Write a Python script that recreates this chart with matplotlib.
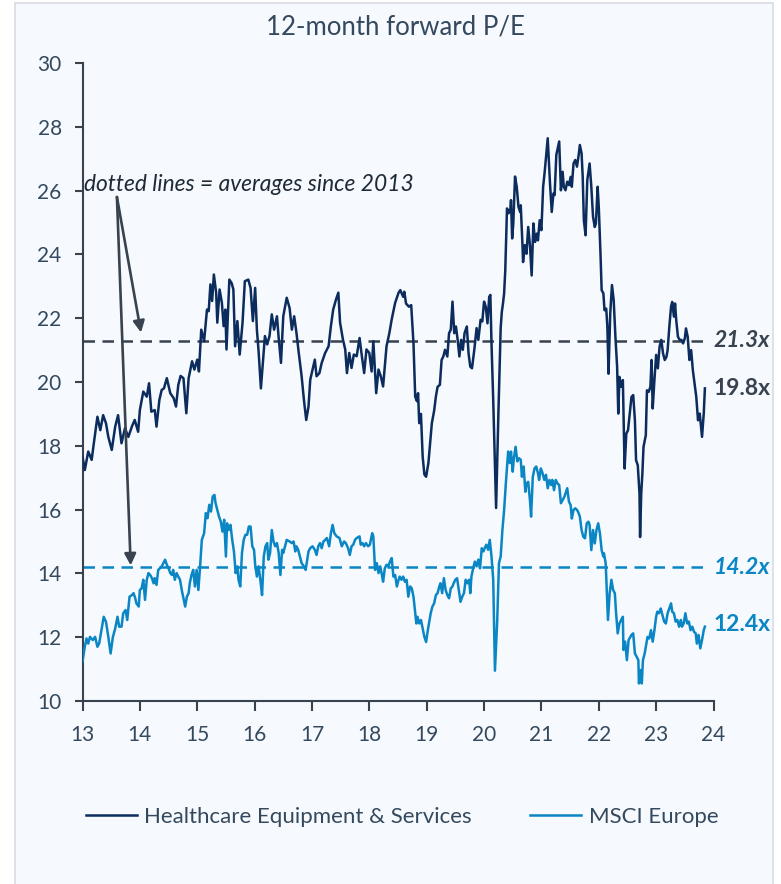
import matplotlib.pyplot as plt
from matplotlib.patches import Rectangle

plt.rcParams['font.family'] = ['Lato', 'DejaVu Sans']

# Healthcare Equipment & Services, 12m fwd P/E (x = year, 13 = 2013)
hc_years = [13.00, 13.04, 13.10, 13.16, 13.19, 13.26, 13.31, 13.36, 13.41, 13.45, 13.51, 13.57, 13.62, 13.68,
            13.74, 13.80, 13.86, 13.91, 13.97, 14.00, 14.06, 14.12, 14.16, 14.20, 14.26, 14.29, 14.34, 14.38,
            14.42, 14.47, 14.53, 14.59, 14.63, 14.67, 14.71, 14.76, 14.81, 14.85, 14.91, 14.95, 15.00, 15.03,
            15.07, 15.12, 15.17, 15.20, 15.23, 15.26, 15.29, 15.33, 15.35, 15.39, 15.43, 15.46, 15.49, 15.51,
            15.56, 15.60, 15.63, 15.66, 15.70, 15.74, 15.79, 15.83, 15.89, 15.93, 15.97, 16.01, 16.04, 16.07,
            16.11, 16.15, 16.18, 16.22, 16.26, 16.30, 16.34, 16.39, 16.42, 16.46, 16.50, 16.56, 16.61, 16.65,
            16.69, 16.73, 16.77, 16.82, 16.86, 16.90, 16.94, 16.97, 17.01, 17.05, 17.08, 17.13, 17.17, 17.23,
            17.29, 17.33, 17.37, 17.42, 17.46, 17.49, 17.54, 17.58, 17.61, 17.65, 17.69, 17.73, 17.78, 17.83,
            17.87, 17.91, 17.95, 18.00, 18.04, 18.07, 18.12, 18.16, 18.20, 18.24, 18.30, 18.35, 18.39, 18.45,
            18.51, 18.54, 18.59, 18.61, 18.64, 18.69, 18.73, 18.77, 18.80, 18.83, 18.85, 18.87, 18.90, 18.93,
            18.96, 18.99, 19.03, 19.09, 19.13, 19.16, 19.19, 19.23, 19.26, 19.29, 19.32, 19.36, 19.39, 19.42,
            19.45, 19.48, 19.51, 19.54, 19.57, 19.60, 19.63, 19.66, 19.70, 19.73, 19.76, 19.79, 19.83, 19.87,
            19.90, 19.94, 19.97, 20.00, 20.03, 20.06, 20.09, 20.11, 20.13, 20.16, 20.21, 20.25, 20.29, 20.31,
            20.33, 20.35, 20.37, 20.40, 20.43, 20.46, 20.47, 20.49, 20.51, 20.54, 20.57, 20.60, 20.63, 20.64,
            20.67, 20.68, 20.71, 20.74, 20.77, 20.80, 20.83, 20.86, 20.89, 20.92, 20.94, 20.97, 21.00, 21.03,
            21.06, 21.09, 21.11, 21.15, 21.18, 21.21, 21.23, 21.26, 21.29, 21.31, 21.34, 21.37, 21.39, 21.42,
            21.45, 21.48, 21.51, 21.53, 21.56, 21.59, 21.62, 21.65, 21.67, 21.70, 21.72, 21.74, 21.77, 21.80,
            21.84, 21.87, 21.90, 21.93, 21.95, 21.98, 22.00, 22.03, 22.05, 22.08, 22.10, 22.13, 22.15, 22.17,
            22.20, 22.23, 22.26, 22.29, 22.32, 22.34, 22.36, 22.39, 22.42, 22.45, 22.48, 22.51, 22.54, 22.57,
            22.60, 22.63, 22.65, 22.68, 22.71, 22.72, 22.74, 22.76, 22.78, 22.82, 22.84, 22.87, 22.90, 22.92,
            22.94, 22.97, 23.00, 23.03, 23.06, 23.09, 23.12, 23.15, 23.18, 23.20, 23.23, 23.26, 23.28, 23.31,
            23.33, 23.35, 23.38, 23.41, 23.44, 23.47, 23.50, 23.52, 23.55, 23.58, 23.61, 23.64, 23.67, 23.70,
            23.73, 23.76, 23.80, 23.83, 23.85]
hc_pe = [17.66, 17.24, 17.82, 17.56, 17.98, 18.91, 18.49, 18.96, 18.70, 18.28, 17.87, 18.60, 18.96, 18.08,
         18.55, 18.28, 18.60, 18.81, 18.44, 19.12, 19.70, 19.54, 19.96, 19.07, 19.12, 18.60, 19.44, 19.75,
         19.80, 20.12, 19.65, 19.49, 19.23, 19.91, 20.19, 20.12, 19.02, 20.12, 20.65, 20.39, 20.70, 20.33,
         21.64, 21.28, 22.27, 22.22, 23.06, 22.54, 23.37, 22.80, 21.86, 22.90, 22.48, 21.75, 22.27, 21.02,
         23.21, 23.10, 22.90, 21.12, 21.91, 20.86, 21.86, 23.16, 23.21, 22.95, 21.91, 22.95, 21.64, 20.96,
         19.80, 20.75, 21.44, 21.18, 21.44, 22.12, 21.64, 22.06, 21.38, 20.60, 22.06, 22.64, 22.32, 21.64,
         22.06, 21.54, 20.91, 20.18, 19.44, 18.81, 19.23, 20.07, 20.39, 20.70, 20.18, 20.28, 20.60, 20.91,
         21.12, 21.75, 22.27, 22.59, 22.80, 21.86, 21.33, 21.02, 20.28, 20.91, 20.44, 20.86, 20.81, 21.38,
         20.81, 20.28, 21.02, 20.91, 20.33, 21.28, 19.65, 20.39, 20.18, 19.86, 21.12, 21.54, 21.96, 22.48,
         22.80, 22.88, 22.67, 22.83, 22.46, 22.36, 22.41, 21.21, 19.54, 19.40, 19.65, 18.71, 19.00, 17.66,
         17.10, 17.03, 17.46, 18.71, 19.10, 19.54, 19.85, 19.91, 20.69, 20.80, 21.01, 20.80, 21.53, 21.64,
         22.52, 21.53, 21.74, 21.32, 20.80, 21.32, 21.01, 21.53, 21.74, 20.90, 20.48, 20.43, 21.01, 21.69,
         21.32, 21.95, 21.90, 22.52, 22.36, 21.84, 22.67, 22.73, 21.21, 19.43, 16.05, 19.00, 21.70, 22.20,
         22.46, 22.78, 23.50, 25.44, 25.29, 25.44, 25.70, 24.50, 24.97, 26.44, 26.12, 25.49, 25.33, 25.54,
         24.29, 23.76, 24.29, 24.02, 24.86, 24.29, 23.34, 24.97, 24.39, 24.65, 24.44, 25.07, 24.76, 26.12,
         26.64, 27.22, 27.64, 26.22, 25.33, 25.91, 25.86, 27.12, 27.38, 27.54, 26.01, 26.59, 26.12, 26.01,
         26.28, 26.17, 26.43, 26.12, 26.85, 26.96, 26.75, 27.12, 27.43, 27.17, 26.43, 25.07, 24.60, 26.33,
         26.85, 26.12, 25.18, 24.86, 24.97, 26.12, 25.49, 24.02, 22.88, 22.78, 22.25, 22.30, 21.73, 20.26,
         22.15, 23.04, 22.57, 21.42, 20.47, 19.01, 20.16, 19.85, 20.06, 17.29, 18.38, 18.49, 19.01, 19.53,
         19.59, 18.80, 17.55, 17.39, 16.50, 15.14, 16.50, 17.13, 17.97, 18.33, 19.74, 19.69, 19.85, 20.69,
         19.17, 20.06, 20.85, 20.43, 21.11, 21.32, 20.90, 20.69, 20.79, 21.00, 21.73, 22.36, 22.51, 22.05,
         22.46, 21.94, 21.42, 21.32, 21.32, 21.21, 21.37, 21.68, 21.42, 20.69, 21.00, 20.37, 19.95, 19.53,
         18.80, 19.01, 18.28, 19.01, 19.80]

# MSCI Europe, 12m fwd P/E
eu_years = [13.00, 13.04, 13.07, 13.10, 13.13, 13.18, 13.22, 13.26, 13.29, 13.33, 13.37, 13.41, 13.45, 13.49,
            13.53, 13.57, 13.61, 13.64, 13.68, 13.71, 13.75, 13.78, 13.82, 13.86, 13.89, 13.92, 13.94, 13.98,
            14.00, 14.03, 14.06, 14.09, 14.12, 14.15, 14.18, 14.21, 14.24, 14.26, 14.29, 14.32, 14.35, 14.38,
            14.41, 14.44, 14.47, 14.50, 14.53, 14.56, 14.58, 14.61, 14.64, 14.67, 14.70, 14.73, 14.76, 14.79,
            14.82, 14.85, 14.87, 14.90, 14.93, 14.96, 14.99, 15.02, 15.05, 15.08, 15.12, 15.15, 15.18, 15.21,
            15.24, 15.27, 15.30, 15.32, 15.35, 15.38, 15.41, 15.44, 15.47, 15.50, 15.52, 15.55, 15.58, 15.61,
            15.64, 15.67, 15.70, 15.72, 15.75, 15.78, 15.81, 15.84, 15.87, 15.90, 15.93, 15.96, 15.99, 16.01,
            16.04, 16.07, 16.10, 16.13, 16.16, 16.19, 16.22, 16.24, 16.27, 16.30, 16.33, 16.36, 16.39, 16.42,
            16.45, 16.48, 16.50, 16.53, 16.56, 16.61, 16.65, 16.68, 16.71, 16.73, 16.76, 16.79, 16.82, 16.86,
            16.89, 16.94, 16.97, 17.01, 17.05, 17.08, 17.11, 17.14, 17.17, 17.20, 17.23, 17.26, 17.30, 17.33,
            17.36, 17.39, 17.43, 17.48, 17.52, 17.56, 17.59, 17.63, 17.66, 17.69, 17.72, 17.75, 17.78, 17.83,
            17.85, 17.88, 17.91, 17.94, 17.98, 18.01, 18.05, 18.07, 18.10, 18.13, 18.16, 18.19, 18.22, 18.24,
            18.27, 18.30, 18.33, 18.36, 18.39, 18.42, 18.45, 18.48, 18.51, 18.53, 18.56, 18.59, 18.62, 18.65,
            18.68, 18.71, 18.74, 18.77, 18.80, 18.82, 18.84, 18.87, 18.90, 18.93, 18.96, 18.99, 19.02, 19.05,
            19.07, 19.10, 19.13, 19.16, 19.19, 19.22, 19.24, 19.27, 19.30, 19.33, 19.36, 19.39, 19.42, 19.45,
            19.47, 19.50, 19.53, 19.56, 19.59, 19.62, 19.65, 19.68, 19.71, 19.74, 19.76, 19.78, 19.81, 19.84,
            19.87, 19.90, 19.93, 19.96, 19.99, 20.01, 20.04, 20.07, 20.10, 20.13, 20.16, 20.19, 20.23, 20.26,
            20.29, 20.32, 20.35, 20.38, 20.42, 20.45, 20.47, 20.50, 20.52, 20.55, 20.58, 20.61, 20.64, 20.66,
            20.69, 20.72, 20.74, 20.77, 20.80, 20.82, 20.85, 20.88, 20.91, 20.94, 20.96, 20.99, 21.02, 21.05,
            21.08, 21.11, 21.14, 21.17, 21.19, 21.22, 21.25, 21.28, 21.31, 21.34, 21.37, 21.40, 21.43, 21.45,
            21.48, 21.51, 21.53, 21.56, 21.59, 21.62, 21.64, 21.67, 21.70, 21.73, 21.76, 21.79, 21.82, 21.84,
            21.87, 21.90, 21.93, 21.96, 21.99, 22.02, 22.05, 22.08, 22.09, 22.12, 22.13, 22.16, 22.19, 22.22,
            22.25, 22.28, 22.30, 22.33, 22.36, 22.39, 22.42, 22.43, 22.46, 22.49, 22.52, 22.55, 22.57, 22.60,
            22.63, 22.66, 22.69, 22.70, 22.73, 22.75, 22.77, 22.80, 22.83, 22.85, 22.88, 22.91, 22.94, 22.97,
            23.00, 23.02, 23.05, 23.08, 23.11, 23.14, 23.17, 23.20, 23.23, 23.26, 23.28, 23.31, 23.34, 23.37,
            23.40, 23.43, 23.45, 23.48, 23.51, 23.54, 23.57, 23.60, 23.63, 23.66, 23.69, 23.71, 23.74, 23.77,
            23.80, 23.83, 23.85]
eu_pe = [11.23, 11.70, 11.96, 11.80, 12.01, 11.91, 12.01, 11.70, 11.80, 12.22, 12.64, 12.48, 12.01, 11.49,
         12.01, 12.27, 12.64, 12.33, 12.33, 12.75, 12.85, 12.54, 13.27, 13.32, 13.38, 13.22, 13.06, 12.96,
         13.48, 13.53, 13.80, 13.17, 13.80, 14.01, 13.95, 13.85, 13.69, 13.85, 13.64, 14.11, 14.16, 14.22,
         14.32, 14.43, 14.27, 14.16, 14.01, 13.95, 14.11, 13.80, 14.01, 13.90, 13.80, 13.48, 13.22, 12.96,
         13.27, 13.38, 13.69, 13.95, 14.11, 13.59, 14.11, 13.48, 14.22, 15.05, 15.26, 15.89, 15.73, 16.15,
         15.94, 16.41, 16.46, 16.20, 15.99, 15.78, 15.63, 15.31, 15.68, 14.53, 15.57, 15.36, 15.52, 15.05,
         14.69, 14.01, 14.22, 13.80, 13.59, 14.64, 15.05, 15.21, 15.21, 15.47, 15.47, 14.85, 14.74, 14.27,
         13.90, 14.22, 13.80, 13.32, 14.53, 14.85, 14.95, 14.43, 14.64, 15.36, 15.00, 14.85, 14.95, 14.64,
         13.95, 14.74, 14.64, 14.85, 15.05, 15.00, 14.95, 15.00, 14.69, 14.85, 14.74, 14.53, 14.32, 14.22,
         14.11, 14.69, 14.79, 14.85, 14.74, 14.58, 14.85, 14.95, 14.79, 15.00, 15.05, 15.11, 14.85, 15.26,
         15.52, 15.26, 15.16, 15.11, 14.85, 15.00, 14.95, 14.79, 14.58, 14.85, 14.90, 15.05, 15.11, 15.16,
         14.90, 14.95, 14.85, 14.95, 14.85, 14.90, 15.26, 15.16, 14.11, 14.32, 14.01, 14.22, 13.95, 13.74,
         14.16, 14.27, 14.22, 14.37, 14.48, 13.90, 13.95, 13.59, 13.80, 13.90, 13.80, 13.90, 13.74, 13.80,
         13.27, 13.59, 13.53, 13.27, 12.75, 12.43, 12.64, 12.43, 12.54, 12.27, 12.01, 11.85, 12.22, 12.54,
         12.75, 12.96, 13.06, 13.32, 13.38, 13.59, 13.69, 13.38, 13.85, 13.48, 13.32, 13.22, 13.53, 13.59,
         13.69, 13.80, 13.85, 13.48, 13.11, 13.27, 13.38, 13.80, 13.69, 13.80, 13.38, 13.90, 14.16, 14.37,
         14.22, 14.43, 14.16, 14.79, 14.69, 14.79, 14.90, 14.74, 15.05, 14.53, 13.80, 10.95, 12.54, 14.32,
         14.53, 15.36, 15.99, 16.82, 17.82, 17.46, 17.82, 17.19, 17.61, 17.97, 17.51, 17.61, 17.56, 17.03,
         17.35, 16.56, 16.82, 16.87, 16.30, 15.78, 17.03, 17.29, 17.35, 17.14, 16.93, 17.29, 17.14, 16.93,
         17.09, 16.67, 16.93, 16.77, 16.93, 16.61, 16.93, 16.82, 16.77, 16.20, 16.30, 16.40, 16.56, 16.67,
         16.25, 16.14, 15.72, 15.99, 16.04, 15.99, 15.93, 15.78, 15.36, 15.15, 15.10, 15.57, 15.62, 15.52,
         14.73, 15.36, 14.94, 15.36, 15.57, 15.26, 14.73, 14.53, 14.63, 14.32, 13.90, 12.54, 13.38, 13.80,
         13.48, 13.38, 12.80, 12.12, 12.43, 12.54, 12.64, 11.60, 11.86, 11.28, 11.91, 12.01, 12.07, 12.12,
         11.49, 11.39, 11.28, 10.55, 10.97, 10.55, 11.28, 11.49, 11.80, 12.01, 11.96, 12.22, 11.86, 12.22,
         12.64, 12.80, 12.75, 12.90, 12.70, 12.49, 12.43, 12.75, 12.90, 13.06, 12.80, 12.75, 12.49, 12.54,
         12.33, 12.54, 12.33, 12.43, 12.75, 12.43, 12.49, 12.22, 12.33, 12.17, 12.12, 11.80, 12.07, 11.65,
         11.91, 12.22, 12.33]

hc_avg = 21.3
eu_avg = 14.2
hc_last = 19.8
eu_last = 12.4
x_ticks = list(range(13, 25))
y_ticks = list(range(10, 31, 2))

HC_COLOR = '#0b2c5c'
EU_COLOR = '#0a86c4'
GREY = '#38434f'
TEXT = '#34495e'
BG = '#f6f9fd'

fig = plt.figure(figsize=(7.81, 8.84), dpi=100)
fig.patch.set_facecolor('white')
# light panel with thin grey border behind everything
fig.patches.append(Rectangle((15 / 781, -0.01), 758 / 781, 1 - 3 / 884 + 0.01, transform=fig.transFigure,
                             facecolor=BG, edgecolor='#d8dde3', linewidth=1.2, zorder=-10))

ax = fig.add_axes([82.5 / 781, 1 - 701 / 884, 631 / 781, 638 / 884])
ax.set_facecolor('none')
ax.set_zorder(1)

ax.plot(hc_years, hc_pe, color=HC_COLOR, lw=1.8, label='Healthcare Equipment & Services', zorder=3)
ax.plot(eu_years, eu_pe, color=EU_COLOR, lw=1.8, label='MSCI Europe', zorder=3)
# averages since 2013 (dashed), stopping a little short of the right edge
ax.hlines(hc_avg, 13, 23.88, color=GREY, lw=1.8, linestyles=(0, (4.6, 3.0)), zorder=2)
ax.hlines(eu_avg, 13, 23.88, color=EU_COLOR, lw=1.8, linestyles=(0, (4.6, 3.0)), zorder=2)

ax.set_xlim(13, 24)
ax.set_ylim(10, 30)
ax.set_xticks(x_ticks)
ax.set_yticks(y_ticks)
for s in ['top', 'right']:
    ax.spines[s].set_visible(False)
for s in ['left', 'bottom']:
    ax.spines[s].set_color(GREY)
    ax.spines[s].set_linewidth(1.5)
ax.tick_params(axis='both', colors=GREY, width=1.5, labelsize=15, labelcolor=TEXT)
ax.tick_params(axis='y', length=6, pad=9)
ax.tick_params(axis='x', length=7, pad=10)

# labels at the right end
ax.text(24.0, hc_avg, f'{hc_avg}x', color=GREY, fontsize=16.5, fontweight='bold', fontstyle='italic',
        va='center', ha='left', clip_on=False)
ax.text(24.0, hc_last, f'{hc_last}x', color=GREY, fontsize=16.5, fontweight='bold',
        va='center', ha='left', clip_on=False)
ax.text(24.0, eu_avg, f'{eu_avg}x', color=EU_COLOR, fontsize=16.5, fontweight='bold', fontstyle='italic',
        va='center', ha='left', clip_on=False)
ax.text(24.0, eu_last, f'{eu_last}x', color=EU_COLOR, fontsize=16.5, fontweight='bold',
        va='center', ha='left', clip_on=False)

# annotation + arrows
ax.text(13.03, 26.2, 'dotted lines = averages since 2013', fontsize=16.4, fontstyle='italic',
        color='#1e2a36', va='center', ha='left')
ax.annotate('', xy=(14.02, 21.55), xytext=(13.6, 25.8),
            arrowprops=dict(arrowstyle='-|>', color=GREY, lw=1.9, mutation_scale=17, shrinkA=0, shrinkB=0))
ax.annotate('', xy=(13.84, 14.25), xytext=(13.6, 25.8),
            arrowprops=dict(arrowstyle='-|>', color=GREY, lw=1.9, mutation_scale=17, shrinkA=0, shrinkB=0))

fig.text(395 / 781, 1 - 27 / 884, '12-month forward P/E', fontsize=18.5, color=TEXT, ha='center', va='center')

fig.legend(loc='center', bbox_to_anchor=(402 / 781, 1 - 817 / 884), ncol=2, frameon=False,
           fontsize=16, handlelength=2.3, handletextpad=0.35, columnspacing=2.6, labelcolor=TEXT)

fig.savefig('out.png', dpi=100, facecolor=fig.get_facecolor())
